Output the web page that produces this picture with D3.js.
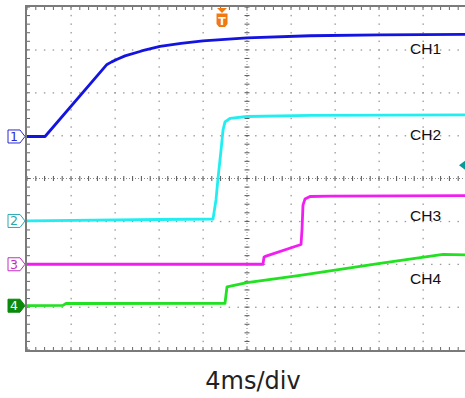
<!DOCTYPE html>
<html><head><meta charset="utf-8">
<script src="https://cdn.jsdelivr.net/npm/d3@7/dist/d3.min.js"></script>
<style>html,body{margin:0;padding:0;background:#fff;overflow:hidden}</style>
</head><body>
<svg id="c" width="465" height="398"></svg>
<script>
// time in ms (4 ms/div, 10 div), level in divisions (8 div)
const ch1T = [0, 1.64, 7.27, 7.7, 8.2, 8.91, 10.5, 12.09, 14.0, 16.0, 20.0, 25.73, 32.09, 40];
const ch1V = [0.98, 0.98, 2.66, 2.72, 2.78, 2.86, 2.98, 3.08, 3.15, 3.21, 3.28, 3.33, 3.35, 3.36];
const ch2T = [0, 12.09, 16.91, 17.18, 17.36, 17.64, 17.82, 18.0, 18.45, 20.0, 25.73, 40];
const ch2V = [-0.99, -0.956, -0.945, -0.50, -0.01, 0.665, 1.13, 1.32, 1.40, 1.446, 1.47, 1.486];
const ch3T = [0, 21.45, 21.55, 21.73, 24.91, 25.0, 25.09, 25.27, 25.73, 27.55, 40];
const ch3V = [-2.0, -2.0, -1.83, -1.81, -1.54, -1.20, -0.62, -0.48, -0.42, -0.41, -0.40];
const ch4T = [0, 3.27, 3.55, 18.0, 18.18, 20.0, 24.82, 32.09, 37.82, 40];
const ch4V = [-2.967, -2.96, -2.915, -2.91, -2.53, -2.43, -2.26, -1.98, -1.77, -1.78];
const chNames = ["CH1", "CH2", "CH3", "CH4"];
const chLabelLevels = [2.9, 0.9, -1.0, -2.45];
const triggerTime = 17.73;
const triggerLevel = 0.31;
const timeLabel = "4ms/div";
const xDivs = 10, yDivs = 8, minorPerDiv = 5;

const traceColors = ["#1414e0", "#22eef2", "#f01ef0", "#22e022"];
const markerColors = ["#2a2ad0", "#2aa8b0", "#c030c0", "#0a8a0a"];

const svg = d3.select("#c");
const x = d3.scaleLinear().domain([0, 40]).range([27, 467]);
const y = d3.scaleLinear().domain([-4, 4]).range([350, 7]);
const gridCol = "#9a9a9a";

const g = svg.append("g");
const xMinor = d3.range(0, xDivs * minorPerDiv + 1).map(i => i * 40 / (xDivs * minorPerDiv));
const yMinor = d3.range(0, yDivs * minorPerDiv + 1).map(i => -4 + i * 8 / (yDivs * minorPerDiv));
const xMajor = d3.range(1, xDivs).map(i => i * 4);
const yMajor = d3.range(1, yDivs).map(i => -4 + i);
xMajor.filter(t => t !== 20).forEach(t => {
  yMinor.forEach(v => g.append("rect").attr("x", x(t) - 0.5).attr("y", y(v) - 0.75).attr("width", 1.3).attr("height", 1.5).attr("fill", gridCol));
});
yMajor.filter(v => v !== 0).forEach(v => {
  xMinor.forEach(t => g.append("rect").attr("x", x(t) - 0.75).attr("y", y(v) - 0.5).attr("width", 1.5).attr("height", 1.3).attr("fill", gridCol));
});
g.append("line").attr("x1", x(20)).attr("x2", x(20)).attr("y1", y(4)).attr("y2", y(-4))
  .attr("stroke", "#888").attr("stroke-width", 1).attr("stroke-dasharray", "1,2");
g.append("line").attr("x1", x(0)).attr("x2", x(40)).attr("y1", y(0)).attr("y2", y(0))
  .attr("stroke", "#888").attr("stroke-width", 1).attr("stroke-dasharray", "1,2");
yMinor.forEach(v => g.append("line").attr("x1", x(20) - 2.5).attr("x2", x(20) + 2.5).attr("y1", y(v)).attr("y2", y(v)).attr("stroke", "#555").attr("stroke-width", 1));
xMinor.forEach(t => g.append("line").attr("x1", x(t)).attr("x2", x(t)).attr("y1", y(0) - 2.5).attr("y2", y(0) + 2.5).attr("stroke", "#555").attr("stroke-width", 1));
xMinor.forEach(t => {
  g.append("line").attr("x1", x(t)).attr("x2", x(t)).attr("y1", y(4)).attr("y2", y(4) + 3).attr("stroke", "#666");
  g.append("line").attr("x1", x(t)).attr("x2", x(t)).attr("y1", y(-4)).attr("y2", y(-4) - 3).attr("stroke", "#666");
});
yMinor.forEach(v => g.append("line").attr("x1", x(0)).attr("x2", x(0) + 3).attr("y1", y(v)).attr("y2", y(v)).attr("stroke", "#666"));
g.append("rect").attr("x", x(0) - 1).attr("y", y(4) - 1).attr("width", x(40) - x(0) + 2).attr("height", y(-4) - y(4) + 2)
  .attr("fill", "none").attr("stroke", "#7a7a7a").attr("stroke-width", 2);

const series = [[ch1T, ch1V], [ch2T, ch2V], [ch3T, ch3V], [ch4T, ch4V]];
const line = d3.line().x(d => x(d[0])).y(d => y(d[1]));
series.forEach((s, i) => {
  const pts = s[0].map((t, k) => [t, s[1][k]]);
  svg.append("path").attr("d", line(pts)).attr("fill", "none")
    .attr("stroke", traceColors[i]).attr("stroke-width", 2.8).attr("stroke-linejoin", "round");
});

chNames.forEach((n, i) => {
  svg.append("text").attr("x", 410).attr("y", y(chLabelLevels[i]))
    .attr("font-family", "Liberation Sans, Arial, sans-serif").attr("font-size", 15.5)
    .attr("fill", "#111").text(n);
});

series.forEach((s, i) => {
  const yy = y(s[1][0]);
  const filled = i === 3;
  svg.append("path").attr("d", `M8,${yy - 6.5}H20L25,${yy}L20,${yy + 6.5}H8Z`)
    .attr("fill", filled ? markerColors[i] : "#fff").attr("stroke", markerColors[i]).attr("stroke-width", 1);
  svg.append("text").attr("x", 14).attr("y", yy + 4.5).attr("text-anchor", "middle")
    .attr("font-family", "DejaVu Sans, sans-serif").attr("font-size", 12.5)
    .attr("fill", filled ? "#fff" : markerColors[i]).text(i + 1);
});

const tx = x(triggerTime);
svg.append("path").attr("d", `M${tx - 5},8L${tx + 5},8L${tx},13Z`).attr("fill", "#f07a10");
svg.append("path").attr("d", `M${tx - 5.5},13.5H${tx + 5.5}V24L${tx + 3},27H${tx - 3}L${tx - 5.5},24Z`).attr("fill", "#f07a10");
svg.append("text").attr("x", tx).attr("y", 25).attr("text-anchor", "middle")
  .attr("font-family", "DejaVu Sans, sans-serif").attr("font-weight", "bold").attr("font-size", 11)
  .attr("fill", "#fff").text("T");
const ty = y(triggerLevel);
svg.append("path").attr("d", `M459,${ty}L465,${ty - 4.5}V${ty + 4.5}Z`).attr("fill", "#0a9a9a");

svg.append("text").attr("x", 253).attr("y", 389).attr("text-anchor", "middle")
  .attr("font-family", "DejaVu Sans, sans-serif").attr("font-size", 24).attr("fill", "#222").text(timeLabel);
</script>
</body></html>
